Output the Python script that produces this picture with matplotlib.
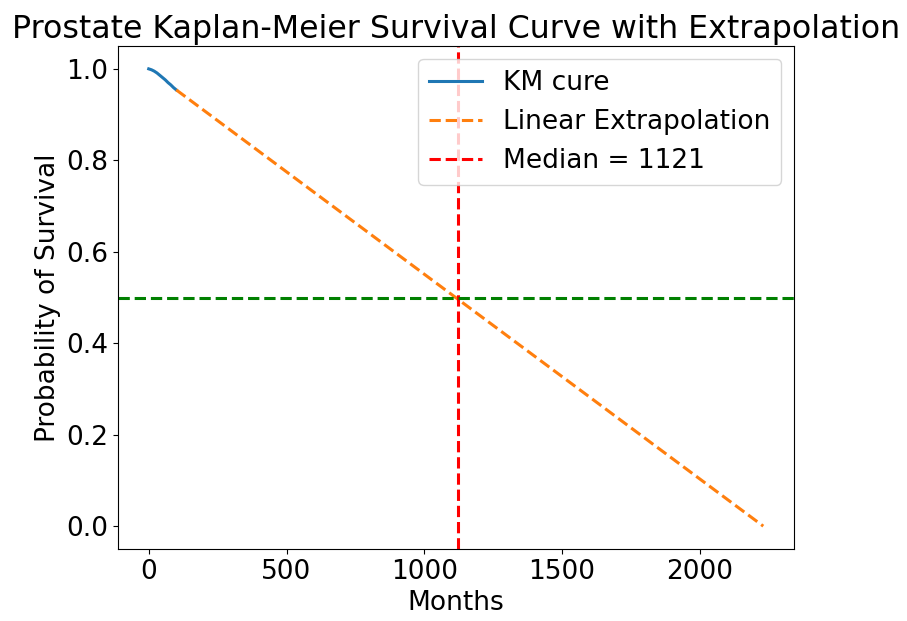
import numpy as np
import matplotlib
matplotlib.use("Agg")
import matplotlib.pyplot as plt

# KM curve
km_months = [0, 10, 20, 30, 40, 50, 60, 70, 80, 90, 100]
km_surv = [1.0, 0.998, 0.995, 0.991, 0.986, 0.981, 0.976, 0.970, 0.965, 0.959, 0.954]

# Linear extrapolation end points
extrap_months = [100, 2230]
extrap_surv = [0.954, 0.0]

median = 1121

plt.rcParams["font.size"] = 19
plt.rcParams["lines.linewidth"] = 2.2

fig = plt.figure(figsize=(9.07, 6.21), dpi=100)
ax = fig.add_axes([118 / 907, 72 / 621, 676 / 907, 503 / 621])

ax.plot(km_months, km_surv, label="KM cure")
ax.plot(extrap_months, extrap_surv, linestyle="--", label="Linear Extrapolation")
ax.axvline(median, color="red", linestyle="--", label=f"Median = {median}")
ax.axhline(0.5, color="green", linestyle="--")

ax.set_xlabel("Months")
ax.set_ylabel("Probability of Survival")
ax.set_title("Prostate Kaplan-Meier Survival Curve with Extrapolation")
ax.legend(loc="upper right")

fig.savefig("out.png", dpi=100)
